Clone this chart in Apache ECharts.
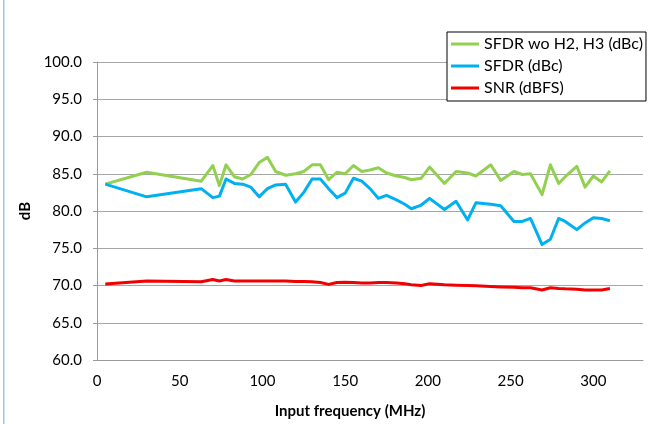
<!DOCTYPE html>
<html>
<head>
<meta charset="utf-8">
<script src="https://cdn.jsdelivr.net/npm/echarts@6/dist/echarts.min.js"></script>
<style>
html,body{margin:0;padding:0;background:#fff;}
#c{width:658px;height:424px;}
</style>
</head>
<body>
<div id="c"></div>
<script>
// Input frequency (MHz)
const freq = [5, 30, 63, 70, 74, 78, 83, 88, 93, 98, 103, 108, 114, 120, 125, 130, 135, 140, 145, 150, 155, 160, 165, 170, 175, 181, 186, 190, 196, 201, 210, 217, 224, 229, 238, 244, 252, 257, 262, 269, 274, 279, 283, 290, 295, 300, 305, 310];
// SFDR wo H2, H3 (dBc)
const sfdrWoH2H3 = [83.6, 85.2, 84.0, 86.1, 83.4, 86.2, 84.6, 84.3, 84.9, 86.5, 87.2, 85.3, 84.8, 85.0, 85.3, 86.2, 86.2, 84.2, 85.2, 85.0, 86.1, 85.3, 85.5, 85.8, 85.1, 84.7, 84.5, 84.2, 84.4, 85.9, 83.7, 85.3, 85.1, 84.7, 86.2, 84.1, 85.3, 84.9, 85.0, 82.2, 86.2, 83.7, 84.6, 86.0, 83.2, 84.7, 83.9, 85.4];
// SFDR (dBc)
const sfdr = [83.6, 81.9, 83.0, 81.8, 82.0, 84.3, 83.7, 83.6, 83.2, 81.9, 83.0, 83.5, 83.6, 81.2, 82.5, 84.3, 84.3, 83.0, 81.8, 82.4, 84.4, 84.0, 83.0, 81.7, 82.1, 81.5, 80.9, 80.3, 80.8, 81.7, 80.2, 81.3, 78.8, 81.1, 80.9, 80.7, 78.6, 78.6, 79.0, 75.5, 76.2, 79.0, 78.6, 77.5, 78.4, 79.1, 79.0, 78.7];
// SNR (dBFS)
const snr = [70.2, 70.6, 70.5, 70.8, 70.6, 70.8, 70.6, 70.6, 70.6, 70.6, 70.6, 70.6, 70.6, 70.55, 70.55, 70.5, 70.4, 70.15, 70.4, 70.45, 70.4, 70.35, 70.35, 70.4, 70.4, 70.35, 70.25, 70.1, 70.0, 70.25, 70.1, 70.05, 70.0, 69.95, 69.85, 69.8, 69.75, 69.7, 69.7, 69.4, 69.7, 69.6, 69.55, 69.5, 69.4, 69.4, 69.4, 69.6];

const seriesNames = ['SFDR wo H2, H3 (dBc)', 'SFDR (dBc)', 'SNR (dBFS)'];
const seriesColors = ['#92D050', '#00B0F0', '#F00000'];
const seriesValues = [sfdrWoH2H3, sfdr, snr];

const FONT = 'Lato, "Open Sans", sans-serif';
const chart = echarts.init(document.getElementById('c'));
chart.setOption({
  animation: false,
  backgroundColor: '#fff',
  textStyle: {fontFamily: FONT},
  grid: {left: 97, right: 15, top: 62, bottom: 63},
  graphic: [{
    type: 'rect', shape: {x: 3, y: 0, width: 1.5, height: 424},
    style: {fill: '#9DC3E6'}, silent: true
  }],
  legend: {
    orient: 'vertical', left: 447, top: 32,
    backgroundColor: '#fff', borderColor: '#000', borderWidth: 1,
    padding: [4, 3, 5, 4], itemGap: 6,
    itemWidth: 28, itemHeight: 3,
    textStyle: {fontFamily: FONT, fontSize: 16, color: '#000', lineHeight: 16},
    data: seriesNames.map(n => ({name: n, icon: 'rect'}))
  },
  xAxis: {
    type: 'value', min: 0, max: 330, interval: 50,
    name: 'Input frequency (MHz)', nameLocation: 'middle', nameGap: 44,
    nameTextStyle: {fontFamily: FONT, fontSize: 15, fontWeight: 'bold', color: '#000', padding: [0, 40, 0, 0]},
    axisLine: {lineStyle: {color: '#9a9a9a', width: 1}},
    axisTick: {show: false},
    axisLabel: {showMaxLabel: false, margin: 14, fontFamily: FONT, fontSize: 15, color: '#000'},
    splitLine: {show: false}
  },
  yAxis: {
    type: 'value', min: 60, max: 100, interval: 5,
    name: 'dB', nameLocation: 'middle', nameGap: 64, nameRotate: 90,
    nameTextStyle: {fontFamily: FONT, fontSize: 15, fontWeight: 'bold', color: '#000'},
    axisLine: {show: true, lineStyle: {color: '#9a9a9a', width: 1}},
    axisTick: {show: true, length: 4, lineStyle: {color: '#9a9a9a'}},
    axisLabel: {margin: 15, fontFamily: FONT, fontSize: 15, color: '#000',
      formatter: v => v.toFixed(1)},
    splitLine: {show: true, lineStyle: {color: '#a6a6a6', width: 1}}
  },
  series: seriesNames.map((n, k) => ({
    name: n, type: 'line', showSymbol: false, symbol: 'none',
    color: seriesColors[k],
    lineStyle: {width: 3, color: seriesColors[k], join: 'round'},
    data: freq.map((f, i) => [f, seriesValues[k][i]])
  }))
});
</script>
</body>
</html>
